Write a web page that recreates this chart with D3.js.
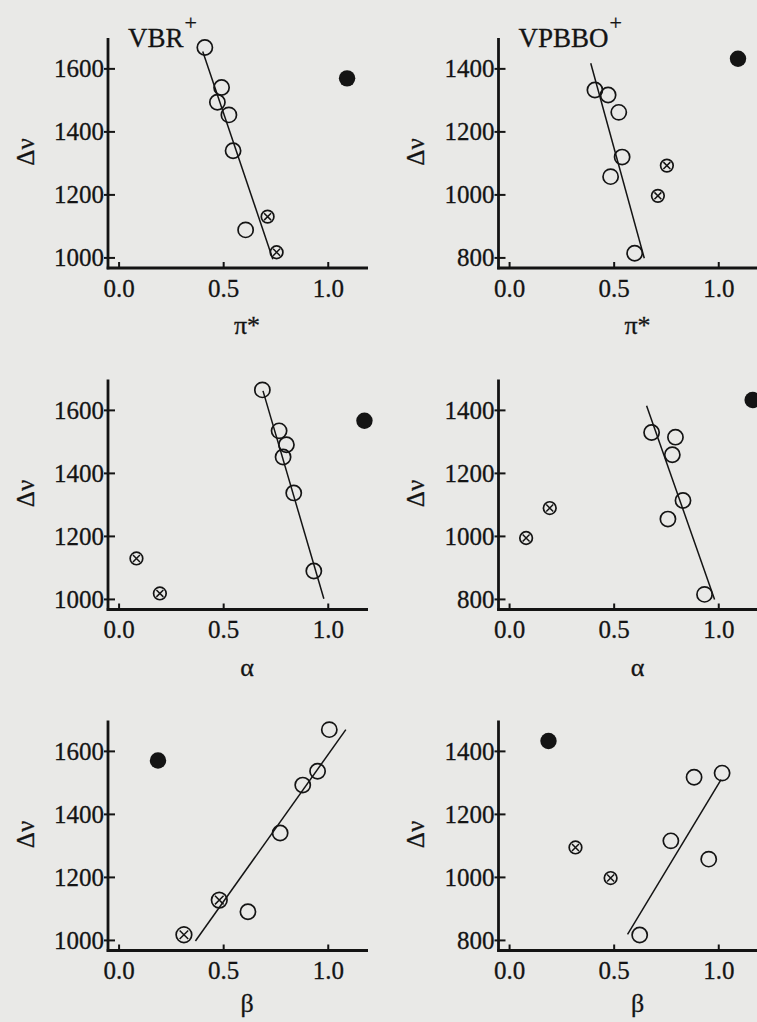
<!DOCTYPE html>
<html>
<head>
<meta charset="utf-8">
<script src="https://cdn.jsdelivr.net/npm/d3@7/dist/d3.min.js"></script>
<style>
  html, body { margin: 0; padding: 0; background: #e9e9e7; }
  svg { display: block; }
  text { font-family: "Liberation Serif", "Times New Roman", serif; fill: #141414;
         stroke: #141414; stroke-width: 0.3px; }
</style>
</head>
<body>
<svg id="fig" width="757" height="1022"></svg>
<script>
// Solvatochromic shift Δν of VBR+ and VPBBO+ against the Kamlet–Taft
// parameters π*, α and β. Open circles: solvents used in the fit,
// crossed circles: excluded solvents, filled circle: outlier.

const xTickValues = [0, 0.5, 1.0];
const xTickLabels = ["0.0", "0.5", "1.0"];
const vbrTicks = [1000, 1200, 1400, 1600];
const vpbboTicks = [800, 1000, 1200, 1400];

// VBR+ vs π*
const vbrPiOpenX  = [0.41, 0.49, 0.47, 0.525, 0.545, 0.605];
const vbrPiOpenY  = [1668, 1541, 1494, 1454, 1340, 1089];
const vbrPiCrossX = [0.71, 0.753];
const vbrPiCrossY = [1131, 1018];
const vbrPiFillX  = [1.09];
const vbrPiFillY  = [1570];
const vbrPiFitX   = [0.40, 0.735];
const vbrPiFitY   = [1655, 996];

// VPBBO+ vs π*
const vpbPiOpenX  = [0.408, 0.471, 0.522, 0.538, 0.483, 0.598];
const vpbPiOpenY  = [1333, 1317, 1262, 1120, 1058, 815];
const vpbPiCrossX = [0.752, 0.709];
const vpbPiCrossY = [1093, 997];
const vpbPiFillX  = [1.092];
const vpbPiFillY  = [1432];
const vpbPiFitX   = [0.388, 0.644];
const vpbPiFitY   = [1418, 799];

// VBR+ vs α
const vbrAlOpenX  = [0.685, 0.765, 0.80, 0.784, 0.835, 0.931];
const vbrAlOpenY  = [1665, 1535, 1491, 1452, 1338, 1090];
const vbrAlCrossX = [0.083, 0.195];
const vbrAlCrossY = [1130, 1019];
const vbrAlFillX  = [1.173];
const vbrAlFillY  = [1567];
const vbrAlFitX   = [0.688, 0.979];
const vbrAlFitY   = [1662, 1002];

// VPBBO+ vs α
const vpbAlOpenX  = [0.679, 0.793, 0.778, 0.829, 0.757, 0.932];
const vpbAlOpenY  = [1330, 1315, 1259, 1114, 1055, 816];
const vpbAlCrossX = [0.192, 0.079];
const vpbAlCrossY = [1090, 995];
const vpbAlFillX  = [1.162];
const vpbAlFillY  = [1433];
const vpbAlFitX   = [0.655, 0.980];
const vpbAlFitY   = [1415, 800];

// VBR+ vs β
const vbrBeOpenX  = [1.005, 0.949, 0.878, 0.770, 0.616];
const vbrBeOpenY  = [1669, 1537, 1493, 1341, 1091];
const vbrBeCrossX = [0.479, 0.310];
const vbrBeCrossY = [1128, 1018];
const vbrBeFillX  = [0.186];
const vbrBeFillY  = [1571];
const vbrBeFitX   = [0.365, 1.084];
const vbrBeFitY   = [998, 1669];

// VPBBO+ vs β
const vpbBeOpenX  = [1.016, 0.882, 0.771, 0.952, 0.622];
const vpbBeOpenY  = [1331, 1318, 1116, 1058, 817];
const vpbBeCrossX = [0.315, 0.483];
const vpbBeCrossY = [1095, 998];
const vpbBeFillX  = [0.186];
const vpbBeFillY  = [1433];
const vpbBeFitX   = [0.564, 1.011];
const vpbBeFitY   = [819, 1310];

const zip = (xs, ys) => xs.map((x, i) => ({ x, y: ys[i] }));

const panels = [
  { col: 0, row: 0, title: "VBR", xLabel: "π*", yDomain: [968, 1698], yTicks: vbrTicks,
    open: zip(vbrPiOpenX, vbrPiOpenY), cross: zip(vbrPiCrossX, vbrPiCrossY),
    fill: zip(vbrPiFillX, vbrPiFillY), fit: zip(vbrPiFitX, vbrPiFitY), crossR: 6.3 },
  { col: 1, row: 0, title: "VPBBO", xLabel: "π*", yDomain: [768, 1498], yTicks: vpbboTicks,
    open: zip(vpbPiOpenX, vpbPiOpenY), cross: zip(vpbPiCrossX, vpbPiCrossY),
    fill: zip(vpbPiFillX, vpbPiFillY), fit: zip(vpbPiFitX, vpbPiFitY), crossR: 6.3 },
  { col: 0, row: 1, title: null, xLabel: "α", yDomain: [968, 1698], yTicks: vbrTicks,
    open: zip(vbrAlOpenX, vbrAlOpenY), cross: zip(vbrAlCrossX, vbrAlCrossY),
    fill: zip(vbrAlFillX, vbrAlFillY), fit: zip(vbrAlFitX, vbrAlFitY), crossR: 6.3 },
  { col: 1, row: 1, title: null, xLabel: "α", yDomain: [768, 1498], yTicks: vpbboTicks,
    open: zip(vpbAlOpenX, vpbAlOpenY), cross: zip(vpbAlCrossX, vpbAlCrossY),
    fill: zip(vpbAlFillX, vpbAlFillY), fit: zip(vpbAlFitX, vpbAlFitY), crossR: 6.3 },
  { col: 0, row: 2, title: null, xLabel: "β", yDomain: [968, 1698], yTicks: vbrTicks,
    open: zip(vbrBeOpenX, vbrBeOpenY), cross: zip(vbrBeCrossX, vbrBeCrossY),
    fill: zip(vbrBeFillX, vbrBeFillY), fit: zip(vbrBeFitX, vbrBeFitY), crossR: 7.8 },
  { col: 1, row: 2, title: null, xLabel: "β", yDomain: [768, 1498], yTicks: vpbboTicks,
    open: zip(vpbBeOpenX, vpbBeOpenY), cross: zip(vpbBeCrossX, vpbBeCrossY),
    fill: zip(vpbBeFillX, vpbBeFillY), fit: zip(vpbBeFitX, vpbBeFitY), crossR: 6.3 }
];

// frame geometry
const colAxisX = [108, 498.5];
const rowAxisY = [268, 609.5, 950.5];
const plotW = 260, plotH = 230;
const xDomain = [-0.053, 1.19];
const ink = "#141414";

const svg = d3.select("#fig");

panels.forEach(p => {
  const ax = colAxisX[p.col], ay = rowAxisY[p.row];
  const x = d3.scaleLinear().domain(xDomain).range([ax, ax + plotW]);
  const y = d3.scaleLinear().domain(p.yDomain).range([ay, ay - plotH]);
  const g = svg.append("g");

  // axis lines
  g.append("line").attr("x1", ax).attr("x2", ax).attr("y1", ay - plotH).attr("y2", ay + 1.3)
    .attr("stroke", ink).attr("stroke-width", 2.8);
  g.append("line").attr("x1", ax - 1.3).attr("x2", ax + plotW).attr("y1", ay).attr("y2", ay)
    .attr("stroke", ink).attr("stroke-width", 2.8);

  // y ticks
  const yt = g.selectAll("g.yt").data(p.yTicks).join("g").attr("class", "yt")
    .attr("transform", d => `translate(${ax},${y(d)})`);
  yt.append("line").attr("x1", -4).attr("x2", 7).attr("stroke", ink).attr("stroke-width", 2);
  yt.append("text").attr("x", -4).attr("dy", "0.34em").attr("text-anchor", "end")
    .attr("font-size", 25).text(d => d);

  // x ticks
  const xt = g.selectAll("g.xt").data(xTickValues).join("g").attr("class", "xt")
    .attr("transform", d => `translate(${x(d)},${ay})`);
  xt.append("line").attr("y1", 0).attr("y2", -6).attr("stroke", ink).attr("stroke-width", 2);
  xt.append("text").attr("y", 28.5).attr("text-anchor", "middle")
    .attr("font-size", 25).text((d, i) => xTickLabels[i]);

  // axis titles
  g.append("text").attr("x", ax + 139).attr("y", ay + (p.row === 2 ? 61 : 66))
    .attr("text-anchor", "middle").attr("font-size", 26).text(p.xLabel);
  g.append("text")
    .attr("transform", `translate(${ax - 83},${ay - plotH / 2 - 1}) rotate(-90)`)
    .attr("text-anchor", "middle").attr("dy", "0.35em").attr("font-size", 25).text("Δν");

  // fitted line
  g.append("path").datum(p.fit)
    .attr("d", d3.line().x(d => x(d.x)).y(d => y(d.y)))
    .attr("fill", "none").attr("stroke", ink).attr("stroke-width", 1.5);

  // open circles
  g.selectAll("circle.open").data(p.open).join("circle").attr("class", "open")
    .attr("cx", d => x(d.x)).attr("cy", d => y(d.y)).attr("r", 7.6)
    .attr("fill", "none").attr("stroke", ink).attr("stroke-width", 1.7);

  // crossed circles
  const cr = p.crossR, k = cr * 0.55;
  const cg = g.selectAll("g.cross").data(p.cross).join("g").attr("class", "cross")
    .attr("transform", d => `translate(${x(d.x)},${y(d.y)})`);
  cg.append("circle").attr("r", cr).attr("fill", "none").attr("stroke", ink).attr("stroke-width", 1.7);
  cg.append("path").attr("d", `M${-k},${-k}L${k},${k}M${-k},${k}L${k},${-k}`)
    .attr("stroke", ink).attr("stroke-width", 1.5);

  // filled circle
  g.selectAll("circle.fill").data(p.fill).join("circle").attr("class", "fill")
    .attr("cx", d => x(d.x)).attr("cy", d => y(d.y)).attr("r", 8.2).attr("fill", ink);

  // panel title with superscript charge
  if (p.title) {
    const t = g.append("text").attr("x", ax + 20).attr("y", 47).attr("font-size", 27);
    t.append("tspan").text(p.title);
    t.append("tspan").attr("dx", 1).attr("dy", -17).attr("font-size", 22).text("+");
  }
});
</script>
</body>
</html>
